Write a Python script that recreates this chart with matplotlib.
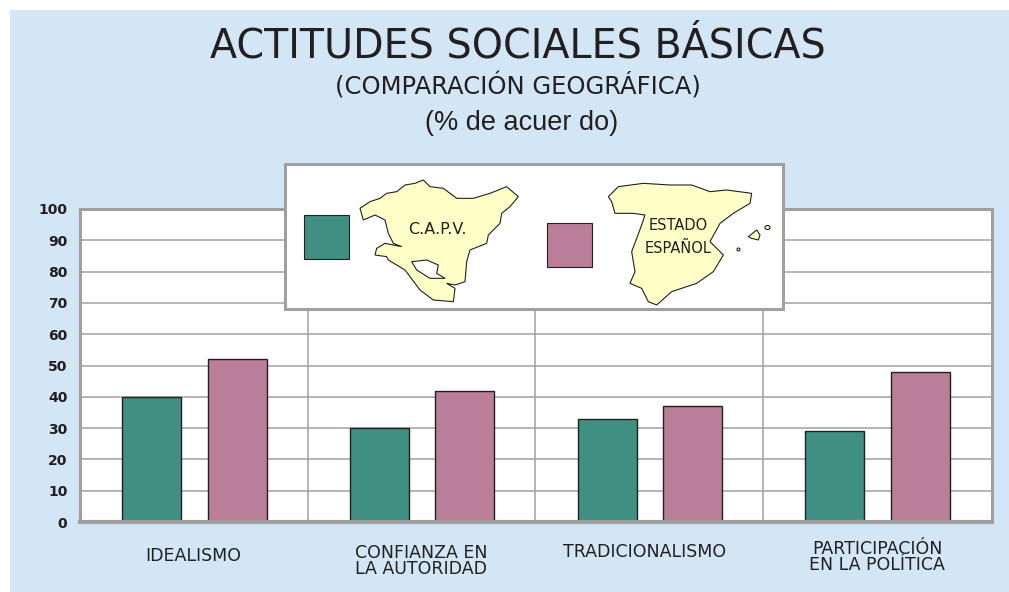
import numpy as np
import matplotlib
matplotlib.use("Agg")
import matplotlib.pyplot as plt
from matplotlib.patches import Polygon, Rectangle, Ellipse

groups = ["IDEALISMO", "CONFIANZA EN\nLA AUTORIDAD", "TRADICIONALISMO", "PARTICIPACIÓN\nEN LA POLÍTICA"]
capv = [40, 30, 33, 29]
estado = [52, 42, 37, 48]
yticks = list(range(0, 101, 10))

# where the category names sit, in pixels
label_x = [193, 421, 645, 877]
label_y = [556, 561, 552, 557]

teal = "#3f9083"
pink = "#ba7e99"
bg = "#d2e6f5"
gray = "#a0a0a0"
ink = "#231f20"

W, H = 1009, 592
plt.rcParams["font.family"] = ["DejaVu Sans"]
fig = plt.figure(figsize=(W / 100, H / 100), dpi=100, facecolor="white")
fig.add_artist(Rectangle((10 / W, 0), 1 - 10 / W, 1 - 10 / H, transform=fig.transFigure,
                         facecolor=bg, edgecolor="none", zorder=-5))

# chart area, pixels
ax = fig.add_axes([80 / W, 1 - 522 / H, (992 - 80) / W, (522 - 209) / H])
ax.set_xlim(0, 4.006)
ax.set_ylim(0, 100)
ax.set_axisbelow(True)
x = np.arange(4) + 0.503
ax.bar(x - 0.188, capv, 0.259, color=teal, edgecolor=ink, linewidth=1)
ax.bar(x + 0.188, estado, 0.259, color=pink, edgecolor=ink, linewidth=1)
ax.set_yticks(yticks)
ax.set_xticks([1, 2, 3])
ax.set_xticklabels([])
ax.grid(True, color=gray, linewidth=1.1)
ax.tick_params(length=0, pad=9)
for lab in ax.get_yticklabels():
    lab.set_fontsize(10)
    lab.set_fontweight("bold")
    lab.set_color(ink)
for s in ax.spines.values():
    s.set_color(gray)
    s.set_linewidth(2.2)
ax.spines["bottom"].set_linewidth(3)

# overlay in pixel coordinates for titles and the map key
ov = fig.add_axes([0, 0, 1, 1], facecolor="none")
ov.set_xlim(0, W)
ov.set_ylim(H, 0)
ov.axis("off")

ov.text(518, 58, "ACTITUDES SOCIALES BÁSICAS", ha="center", va="baseline", fontsize=28.5, color=ink)
ov.text(518, 94, "(COMPARACIÓN GEOGRÁFICA)", ha="center", va="baseline", fontsize=17.5, color=ink)
ov.text(522, 130, "(% de acuer do)", ha="center", va="baseline", fontsize=19.5, color=ink,
        family="Liberation Sans")

for name, lx, ly in zip(groups, label_x, label_y):
    ov.text(lx, ly, name, ha="center", va="center", fontsize=12.5, color=ink, linespacing=0.8)

ov.add_patch(Rectangle((285, 164), 498, 145, facecolor="white", edgecolor=gray, linewidth=2.2))
ov.add_patch(Rectangle((304, 215), 45, 44, facecolor=teal, edgecolor=ink, linewidth=0.8))
ov.add_patch(Rectangle((547, 223), 45, 44, facecolor=pink, edgecolor=ink, linewidth=0.8))


def zoomed(points):
    # outlines were traced on a 3x crop starting at (280, 155)
    return [(280 + px / 3, 155 + py / 3) for px, py in points]


capv_map = [(240, 160), (270, 140), (300, 130), (320, 115), (350, 110), (375, 90), (405, 85), (430, 75), (450, 95),
            (490, 100), (530, 130), (580, 130), (630, 115), (680, 95), (715, 125), (690, 155), (665, 175),
            (660, 205), (625, 240), (620, 265), (570, 285), (560, 320), (555, 380), (525, 390), (500, 385),
            (525, 400), (520, 440), (460, 435), (420, 405), (375, 345), (325, 315), (320, 305), (285, 300),
            (290, 280), (315, 265), (365, 275), (340, 265), (325, 235), (315, 195), (285, 180), (250, 195)]
capv_hole = [(395, 320), (440, 315), (475, 330), (470, 355), (495, 370), (450, 370), (410, 345)]
spain_map = [(985, 125), (1015, 95), (1090, 85), (1170, 90), (1235, 90), (1290, 110), (1340, 105), (1415, 115),
             (1410, 145), (1360, 175), (1320, 205), (1290, 260), (1310, 280), (1330, 300), (1300, 350),
             (1250, 385), (1175, 410), (1130, 450), (1105, 440), (1085, 400), (1050, 385), (1065, 350),
             (1055, 290), (1085, 210), (1095, 180), (1060, 175), (1005, 175), (995, 140)]
mallorca = [(1405, 245), (1430, 225), (1440, 240), (1435, 255), (1415, 250)]

cream = "#ffffc8"
ov.add_patch(Polygon(zoomed(capv_map), facecolor=cream, edgecolor=ink, linewidth=0.8))
ov.add_patch(Polygon(zoomed(capv_hole), facecolor="white", edgecolor=ink, linewidth=0.8))
ov.add_patch(Polygon(zoomed(spain_map), facecolor=cream, edgecolor=ink, linewidth=0.8))
ov.add_patch(Polygon(zoomed(mallorca), facecolor=cream, edgecolor=ink, linewidth=0.8))
ov.add_patch(Ellipse((767.5, 227.5), 5, 4, facecolor=cream, edgecolor=ink, linewidth=0.8))
ov.add_patch(Ellipse((738.5, 249.5), 3, 3, facecolor=cream, edgecolor=ink, linewidth=0.8))

ov.text(437, 230, "C.A.P.V.", ha="center", va="center", fontsize=11.5, color=ink)
ov.text(678, 226, "ESTADO", ha="center", va="center", fontsize=10.5, color=ink)
ov.text(678, 248, "ESPAÑOL", ha="center", va="center", fontsize=10.5, color=ink)

fig.savefig("out.png", dpi=100)
